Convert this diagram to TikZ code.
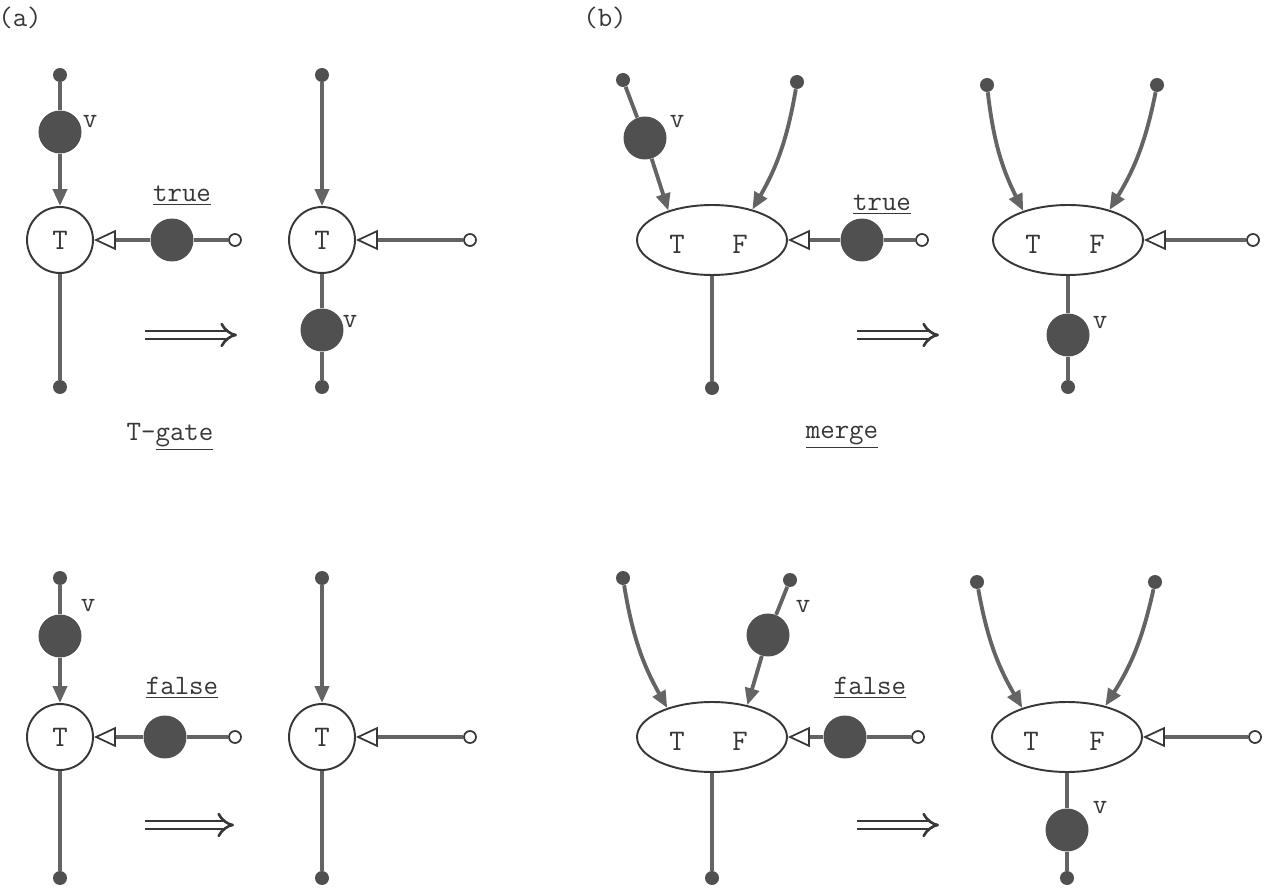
\documentclass[tikz,border=0pt]{standalone}
\usepackage{fontspec}
\usetikzlibrary{arrows.meta,shapes.geometric}

\definecolor{wire}{RGB}{100,100,100}
\definecolor{tok}{RGB}{80,80,80}
\definecolor{ink}{RGB}{55,55,55}

\begin{document}
\begin{tikzpicture}[x=0.02cm,y=-0.02cm,
	gate/.style={shape=circle,draw=ink,line width=1.1pt,minimum size=1.32cm,inner sep=0pt,font=\ttfamily\fontsize{17}{19}\selectfont,text=ink},
	merger/.style={shape=ellipse,draw=ink,line width=1.1pt,minimum width=3cm,minimum height=1.4cm,inner sep=0pt},
	token/.style={shape=circle,fill=tok,minimum size=0.86cm,inner sep=0pt},
	dot/.style={shape=circle,fill=tok,minimum size=0.28cm,inner sep=0pt},
	port/.style={shape=circle,draw=ink,fill=white,line width=1pt,minimum size=0.24cm,inner sep=0pt},
	wire/.style={draw=wire,line width=2.2pt},
	data/.style={wire,-{Triangle[length=0.34cm,width=0.28cm]}},
	ctrl/.style={wire,-{Triangle[open,length=0.44cm,width=0.4cm,line width=1pt,color=ink,fill=white]}},
	implies/.style={draw=ink,line width=1.5pt,double,double distance=3.2pt,-{Implies}},
	txt/.style={font=\ttfamily\fontsize{16}{18}\selectfont,text=ink,inner sep=1pt}]

	\useasboundingbox (0,0) rectangle (1265,888);

	% (a) T-gate, true
	\node[txt] (la) at (20,18) {(a)};
	\node[dot]   (dA1) at (60,75)   {};
	\node[token] (tA1) at (60,132)  {};
	\node[txt]   (vA1) at (90,122)  {v};
	\node[gate]  (gA1) at (60,240)  {T};
	\node[dot]   (oA1) at (60,387)  {};
	\node[token] (kA1) at (172,240) {};
	\node[port]  (pA1) at (235,240) {};
	\node[txt]   (true1) at (182,196) {\underline{true}};
	\coordinate  (iA1) at (145,335);
	\coordinate  (jA1) at (237,335);

	\node[dot]   (dA2) at (322,75)  {};
	\node[gate]  (gA2) at (322,240) {T};
	\node[token] (tA2) at (322,330) {};
	\node[txt]   (vA2) at (350,322) {v};
	\node[dot]   (oA2) at (322,387) {};
	\node[port]  (pA2) at (470,240) {};
	\node[txt]   (tgate) at (170,437) {T-\underline{gate}};

	\path[wire] (dA1) -- (tA1);
	\path[data] (tA1) -- (gA1);
	\path[wire] (gA1) -- (oA1);
	\path[wire] (pA1) -- (kA1);
	\path[ctrl] (kA1) -- (gA1);
	\path[implies] (iA1) -- (jA1);
	\path[data] (dA2) -- (gA2);
	\path[wire] (gA2) -- (tA2);
	\path[wire] (tA2) -- (oA2);
	\path[ctrl] (pA2) -- (gA2);

	% (a) T-gate, false
	\node[dot]   (dA3) at (60,578)  {};
	\node[token] (tA3) at (60,636)  {};
	\node[txt]   (vA3) at (88,606)  {v};
	\node[gate]  (gA3) at (60,737)  {T};
	\node[dot]   (oA3) at (60,878)  {};
	\node[token] (kA3) at (165,737) {};
	\node[port]  (pA3) at (235,737) {};
	\node[txt]   (false1) at (182,688) {\underline{false}};
	\coordinate  (iA3) at (145,825);
	\coordinate  (jA3) at (234,825);

	\node[dot]   (dA4) at (322,578) {};
	\node[gate]  (gA4) at (322,737) {T};
	\node[dot]   (oA4) at (322,878) {};
	\node[port]  (pA4) at (470,737) {};

	\path[wire] (dA3) -- (tA3);
	\path[data] (tA3) -- (gA3);
	\path[wire] (gA3) -- (oA3);
	\path[wire] (pA3) -- (kA3);
	\path[ctrl] (kA3) -- (gA3);
	\path[implies] (iA3) -- (jA3);
	\path[data] (dA4) -- (gA4);
	\path[wire] (gA4) -- (oA4);
	\path[ctrl] (pA4) -- (gA4);

	% (b) merge, true
	\node[txt] (lb) at (605,18) {(b)};
	\node[merger] (mB1) at (712,240) {};
	\node[txt]   (mB1t) at (677,244) {\fontsize{17}{19}\selectfont T};
	\node[txt]   (mB1f) at (740,244) {\fontsize{17}{19}\selectfont F};
	\node[dot]   (dB1a) at (623,80)  {};
	\node[token] (tB1)  at (645,138) {};
	\node[txt]   (vB1)  at (677,122) {v};
	\node[dot]   (dB1b) at (797,82)  {};
	\node[dot]   (oB1)  at (712,388) {};
	\node[token] (kB1)  at (862,240) {};
	\node[port]  (pB1)  at (922,240) {};
	\node[txt]   (true2) at (882,205) {\underline{true}};
	\coordinate  (iB1) at (857,335);
	\coordinate  (jB1) at (939,335);
	\node[txt]   (merge) at (842,437) {\underline{merge}};

	\node[merger] (mB2) at (1068,240) {};
	\node[txt]   (mB2t) at (1033,244) {\fontsize{17}{19}\selectfont T};
	\node[txt]   (mB2f) at (1097,244) {\fontsize{17}{19}\selectfont F};
	\node[dot]   (dB2a) at (987,85)   {};
	\node[dot]   (dB2b) at (1157,85)  {};
	\node[token] (tB2)  at (1068,335) {};
	\node[txt]   (vB2)  at (1100,323) {v};
	\node[dot]   (oB2)  at (1068,387) {};
	\node[port]  (pB2)  at (1253,240) {};

	\path[wire] (dB1a) -- (tB1);
	\path[data] (tB1) -- (mB1.146);
	\path[data] (dB1b) to[bend left=10] (mB1.37);
	\path[wire] (mB1) -- (oB1);
	\path[wire] (pB1) -- (kB1);
	\path[ctrl] (kB1) -- (mB1);
	\path[implies] (iB1) -- (jB1);
	\path[data] (dB2a) to[bend right=10] (mB2.147);
	\path[data] (dB2b) to[bend left=10] (mB2.36);
	\path[wire] (mB2) -- (tB2);
	\path[wire] (tB2) -- (oB2);
	\path[ctrl] (pB2) -- (mB2);

	% (b) merge, false
	\node[merger] (mB3) at (712,737) {};
	\node[txt]   (mB3t) at (677,741) {\fontsize{17}{19}\selectfont T};
	\node[txt]   (mB3f) at (740,741) {\fontsize{17}{19}\selectfont F};
	\node[dot]   (dB3a) at (623,578) {};
	\node[dot]   (dB3b) at (790,580) {};
	\node[token] (tB3)  at (768,635) {};
	\node[txt]   (vB3)  at (803,607) {v};
	\node[dot]   (oB3)  at (712,878) {};
	\node[token] (kB3)  at (845,737) {};
	\node[port]  (pB3)  at (918,737) {};
	\node[txt]   (false2) at (870,688) {\underline{false}};
	\coordinate  (iB3) at (857,825);
	\coordinate  (jB3) at (939,825);

	\node[merger] (mB4) at (1067,737) {};
	\node[txt]   (mB4t) at (1031,741) {\fontsize{17}{19}\selectfont T};
	\node[txt]   (mB4f) at (1097,741) {\fontsize{17}{19}\selectfont F};
	\node[dot]   (dB4a) at (977,582)  {};
	\node[dot]   (dB4b) at (1155,582) {};
	\node[token] (tB4)  at (1067,830) {};
	\node[txt]   (vB4)  at (1100,808) {v};
	\node[dot]   (oB4)  at (1067,878) {};
	\node[port]  (pB4)  at (1255,737) {};

	\path[data] (dB3a) to[bend right=10] (mB3.147);
	\path[wire] (dB3b) -- (tB3);
	\path[data] (tB3) -- (mB3.42);
	\path[wire] (mB3) -- (oB3);
	\path[wire] (pB3) -- (kB3);
	\path[ctrl] (kB3) -- (mB3);
	\path[implies] (iB3) -- (jB3);
	\path[data] (dB4a) to[bend right=10] (mB4.147);
	\path[data] (dB4b) to[bend left=10] (mB4.39);
	\path[wire] (mB4) -- (tB4);
	\path[wire] (tB4) -- (oB4);
	\path[ctrl] (pB4) -- (mB4);

\end{tikzpicture}
\end{document}
